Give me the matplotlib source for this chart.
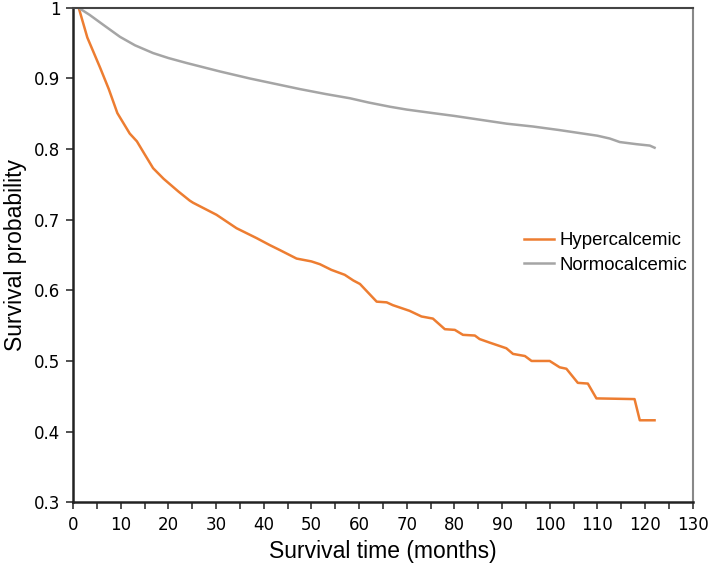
import numpy as np
import matplotlib
matplotlib.use("Agg")
import matplotlib.pyplot as plt
from matplotlib.ticker import MultipleLocator

plt.rcParams['font.family'] = ['DejaVu Sans']
label_font = ['Liberation Sans', 'DejaVu Sans']

# Kaplan-Meier estimates
hyper_t = [1.2, 3, 5.7, 7.5, 9.3, 11.9, 13.4, 15, 16.8, 19, 22.1, 24.5, 25.2,
           30.1, 34.3, 38.5, 41.3, 43.4, 46.9, 50.0, 51.8, 54.2, 57.0, 58.8,
           60.2, 63.7, 65.8, 67.1, 70.6, 73.1, 75.5, 78.0, 80.1, 81.8, 84.3,
           85.3, 87.4, 90.9, 92.3, 94.8, 96.2, 100.0, 102.1, 103.5, 105.9,
           108.0, 109.8, 117.8, 118.9, 122.0]
hyper_s = [1.0, 0.958, 0.915, 0.885, 0.851, 0.822, 0.811, 0.793, 0.773, 0.758,
           0.740, 0.727, 0.724, 0.707, 0.688, 0.674, 0.664, 0.657, 0.645,
           0.641, 0.637, 0.629, 0.622, 0.614, 0.609, 0.584, 0.583, 0.579,
           0.571, 0.563, 0.560, 0.545, 0.544, 0.537, 0.536, 0.531, 0.526,
           0.518, 0.510, 0.507, 0.500, 0.500, 0.491, 0.489, 0.469, 0.468,
           0.447, 0.446, 0.416, 0.416]

normo_t = [1.2, 3.5, 6.35, 9.85, 13, 16.8, 20, 23.8, 30.8, 37.1, 43.4, 47.6,
           53, 58.1, 62, 66.5, 70, 75.5, 80, 86.0, 91, 96.5, 102, 107.0, 110,
           112.6, 114.7, 118.2, 121.0, 122.0]
normo_s = [1.0, 0.99, 0.976, 0.959, 0.947, 0.936, 0.929, 0.922, 0.910, 0.900,
           0.891, 0.885, 0.878, 0.872, 0.866, 0.860, 0.856, 0.851, 0.847,
           0.841, 0.836, 0.832, 0.827, 0.822, 0.819, 0.815, 0.810, 0.807,
           0.805, 0.802]

fig = plt.figure(figsize=(7.09, 5.63), dpi=100)
ax = fig.add_axes([0.103, 0.108, 0.874, 0.878])

ax.plot(hyper_t, hyper_s, color='#ED7D31', lw=1.8, label='Hypercalcemic')
ax.plot(normo_t, normo_s, color='#A5A5A5', lw=1.8, label='Normocalcemic')

ax.set_xlim(0, 130)
ax.set_ylim(0.3, 1.0)
ax.xaxis.set_major_locator(MultipleLocator(10))
ax.xaxis.set_minor_locator(MultipleLocator(5))
ax.yaxis.set_major_locator(MultipleLocator(0.1))
ax.yaxis.set_major_formatter(plt.FuncFormatter(lambda v, p: f'{v:g}'))

ax.tick_params(axis='both', which='both', direction='out', length=5,
               width=1.2, color='#333333', labelsize=12)
ax.tick_params(axis='x', pad=5)
ax.tick_params(axis='y', pad=4)

for side in ['left', 'bottom']:
    ax.spines[side].set_linewidth(1.8)
    ax.spines[side].set_color('#222222')
ax.spines['top'].set_linewidth(1.5)
ax.spines['top'].set_color('#444444')
ax.spines['right'].set_linewidth(1.5)
ax.spines['right'].set_color('#888888')

ax.set_xlabel('Survival time (months)', fontsize=16.5, family=label_font,
              labelpad=4)
ax.set_ylabel('Survival probability', fontsize=16.5, family=label_font,
              labelpad=5)

ax.legend(loc='center left', bbox_to_anchor=(0.728, 0.504), frameon=False,
          prop={'family': label_font, 'size': 13.4}, handlelength=1.6,
          handletextpad=0.3, borderpad=0, borderaxespad=0, labelspacing=0.4)

fig.savefig('out.png', dpi=100)
